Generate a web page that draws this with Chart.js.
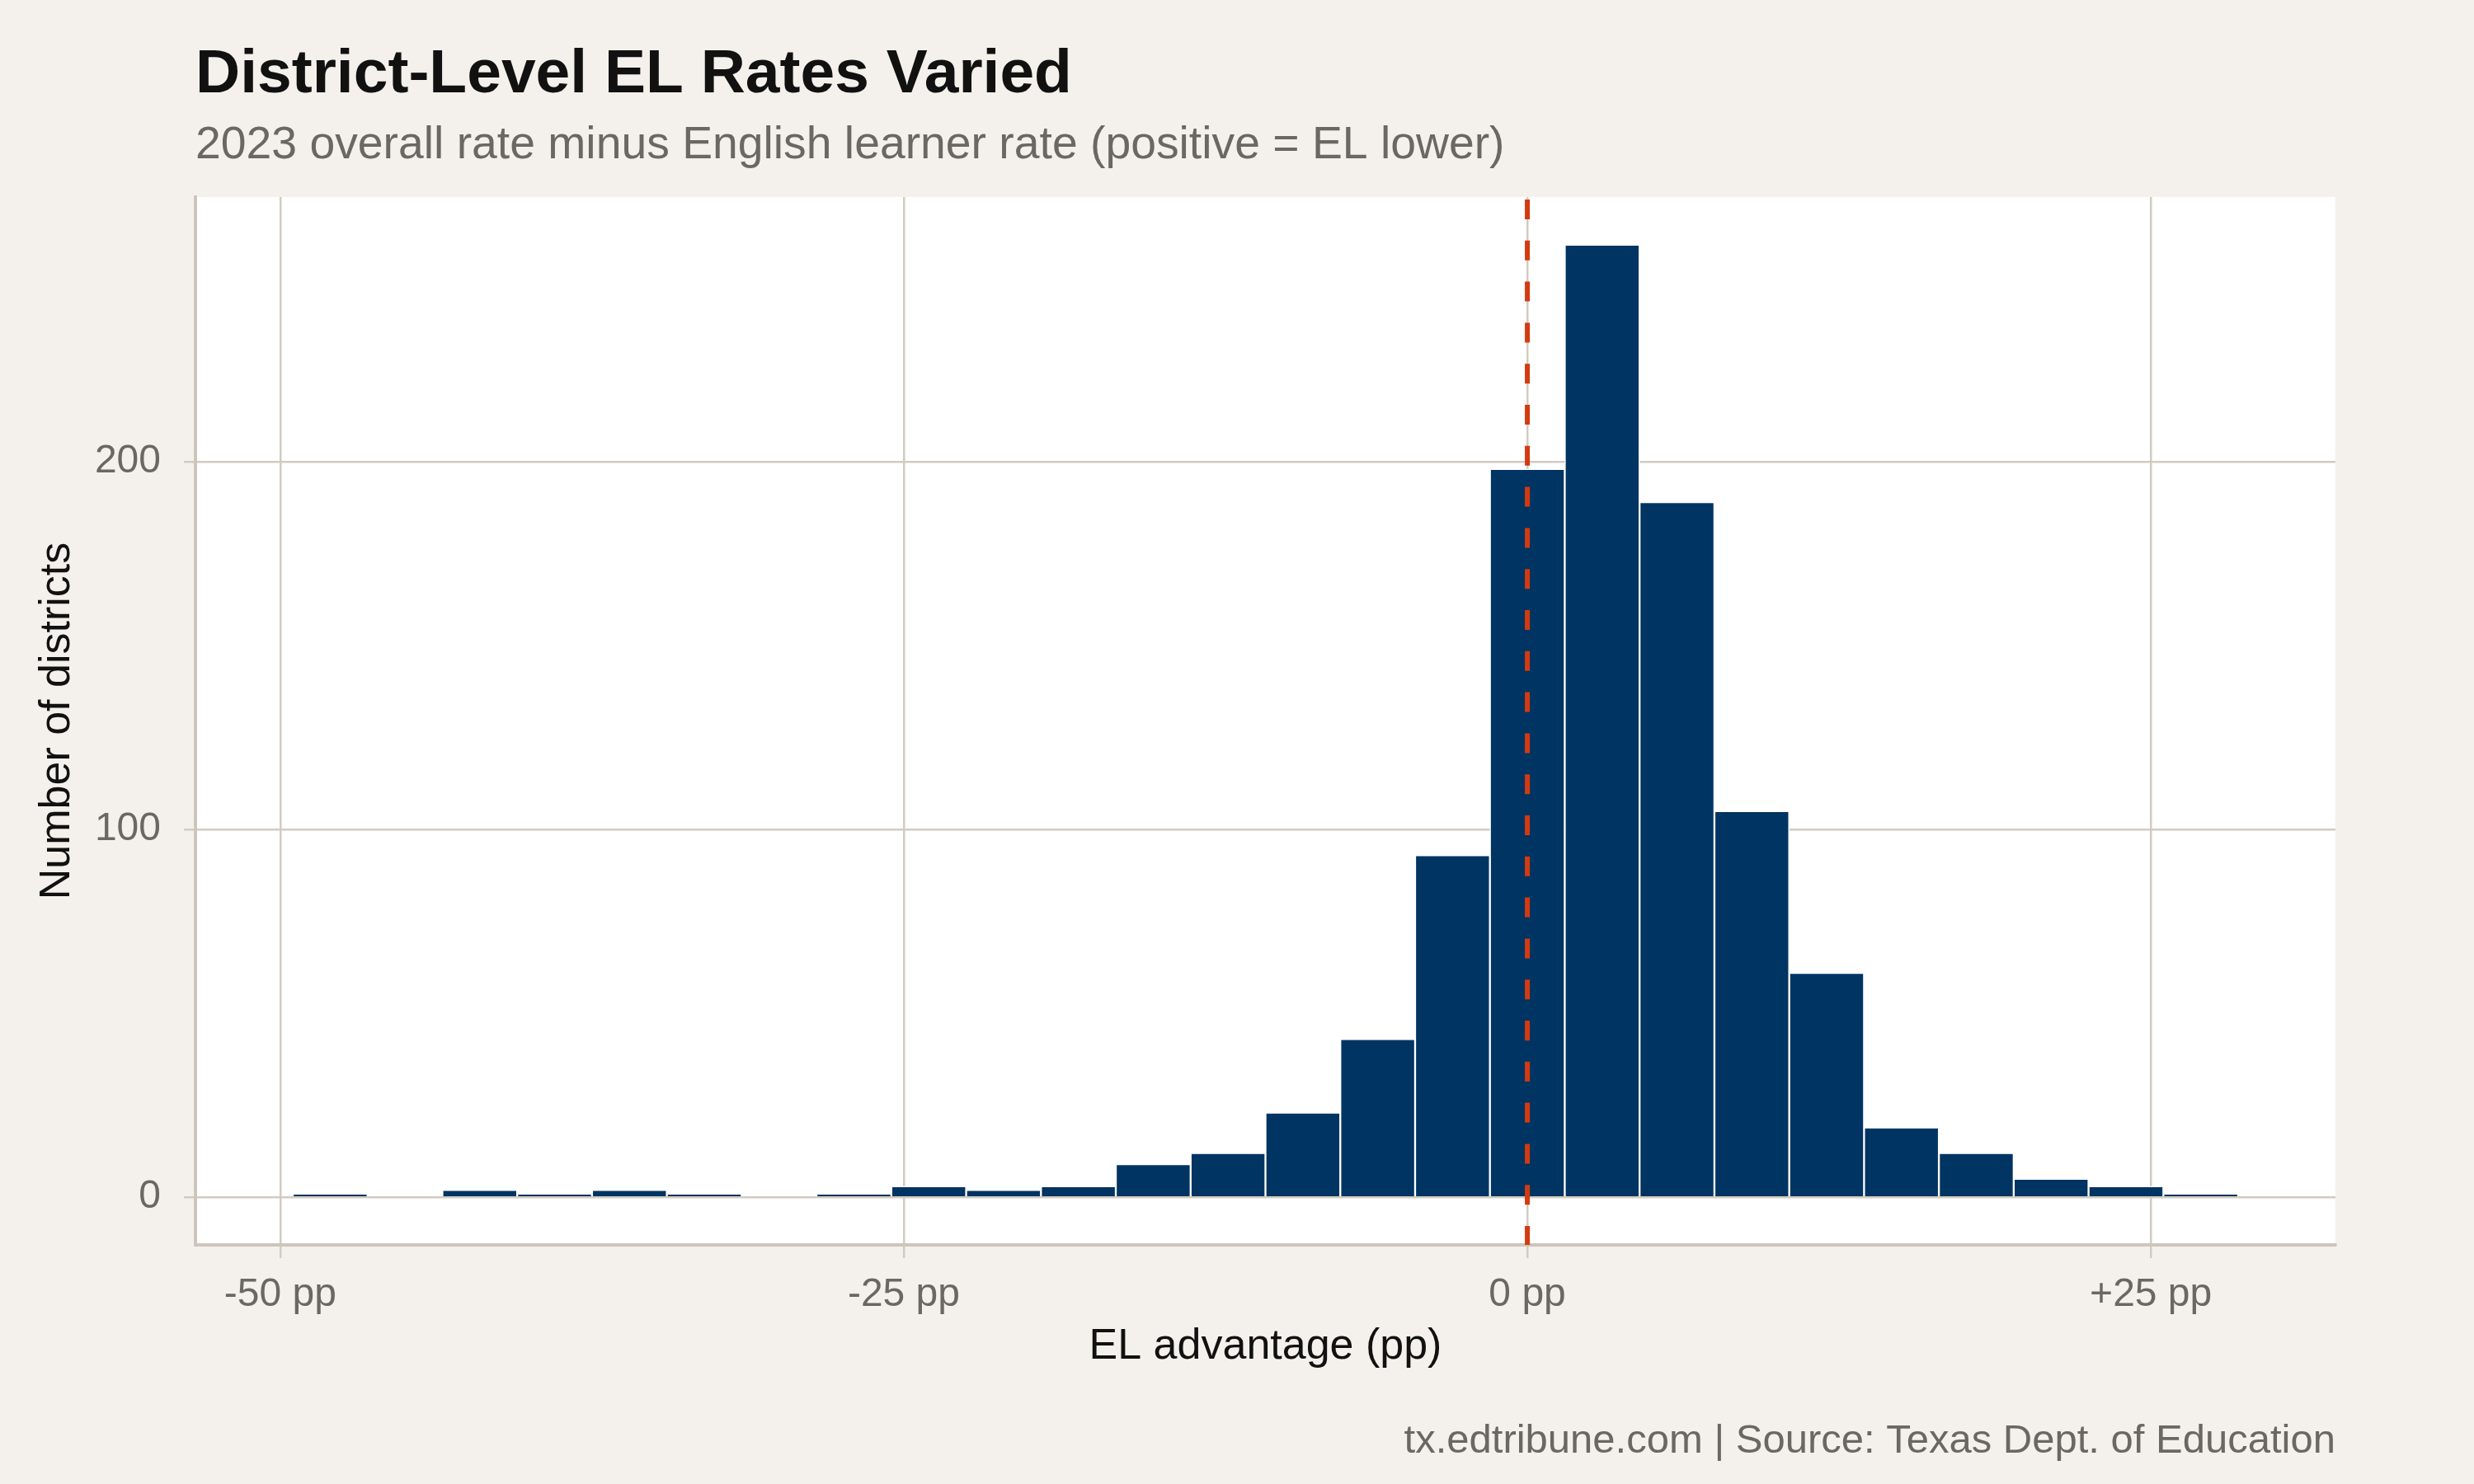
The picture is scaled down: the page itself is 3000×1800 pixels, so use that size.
<!DOCTYPE html>
<html>
<head>
<meta charset="utf-8">
<script src="https://cdn.jsdelivr.net/npm/chart.js@4.4.0/dist/chart.umd.min.js"></script>
<style>
  html, body { margin: 0; padding: 0; background: #F4F1EC; }
  canvas { display: block; }
</style>
</head>
<body>
<canvas id="chart" width="3000" height="1800" style="width:3000px;height:1800px"></canvas>
<script>
// ---- Data ----
const binCenters = [-48, -45, -42, -39, -36, -33, -30, -27, -24, -21, -18, -15, -12, -9, -6, -3, 0, 3, 6, 9, 12, 15, 18, 21, 24, 27];
const districtCounts = [1, 0, 2, 1, 2, 1, 0, 1, 3, 2, 3, 9, 12, 23, 43, 93, 198, 259, 189, 105, 61, 19, 12, 5, 3, 1];
const xTickValues = [-50, -25, 0, 25];
const xTickLabels = ['-50 pp', '-25 pp', '0 pp', '+25 pp'];
const yTickValues = [0, 100, 200];
const yTickLabels = ['0', '100', '200'];
const referenceValue = 0;

const titleText = 'District-Level EL Rates Varied';
const subtitleText = '2023 overall rate minus English learner rate (positive = EL lower)';
const captionText = 'tx.edtribune.com | Source: Texas Dept. of Education';
const xAxisTitle = 'EL advantage (pp)';
const yAxisTitle = 'Number of districts';

// ---- Styles ----
const FONT = "'Liberation Sans', Arial, Helvetica, sans-serif";
const PAGE_BG = '#F4F1EC';
const PANEL_BG = '#FFFFFF';
const GRID = '#D2CBC2';
const AXIS = '#CDC5BB';
const BAR = '#003462';
const REF = '#D43A10';
const GRAY_TEXT = '#6B6762';
const DARK_TEXT = '#111111';

const backgroundPlugin = {
  id: 'bg',
  beforeDraw(chart) {
    const { ctx, chartArea } = chart;
    ctx.save();
    ctx.fillStyle = PAGE_BG;
    ctx.fillRect(0, 0, chart.width, chart.height);
    ctx.fillStyle = PANEL_BG;
    ctx.fillRect(chartArea.left, chartArea.top, chartArea.right - chartArea.left, chartArea.bottom - chartArea.top);
    ctx.restore();
  }
};

const refLinePlugin = {
  id: 'refLine',
  afterDatasetsDraw(chart) {
    const { ctx, chartArea, scales } = chart;
    const px = scales.x.getPixelForValue(referenceValue);
    ctx.save();
    ctx.strokeStyle = REF;
    ctx.lineWidth = 6;
    ctx.setLineDash([24, 25.8]);
    ctx.lineDashOffset = -3;
    ctx.beginPath();
    ctx.moveTo(px, chartArea.top);
    ctx.lineTo(px, chartArea.bottom);
    ctx.stroke();
    ctx.restore();
  }
};

const textPlugin = {
  id: 'texts',
  afterDraw(chart) {
    const { ctx, chartArea } = chart;
    ctx.save();
    ctx.textBaseline = 'alphabetic';
    ctx.textAlign = 'left';
    ctx.fillStyle = DARK_TEXT;
    ctx.font = `bold 75px ${FONT}`;
    ctx.fillText(titleText, chartArea.left, 112);
    ctx.fillStyle = GRAY_TEXT;
    ctx.font = `55.3px ${FONT}`;
    ctx.fillText(subtitleText, chartArea.left, 192);
    ctx.textAlign = 'right';
    ctx.font = `49px ${FONT}`;
    ctx.fillText(captionText, chartArea.right, 1762);
    ctx.restore();
  }
};

const ctx = document.getElementById('chart').getContext('2d');
new Chart(ctx, {
  type: 'bar',
  data: {
    datasets: [{
      data: binCenters.map((x, i) => ({ x: x, y: districtCounts[i] })),
      backgroundColor: BAR,
      borderColor: '#FFFFFF',
      borderWidth: 1.5,
      borderSkipped: 'start',
      barPercentage: 1,
      categoryPercentage: 1
    }]
  },
  options: {
    responsive: false,
    devicePixelRatio: 1,
    animation: false,
    layout: { padding: { left: 0, top: 239, right: 168, bottom: 134.8 } },
    plugins: {
      legend: { display: false },
      tooltip: { enabled: false },
      title: { display: false }
    },
    scales: {
      x: {
        type: 'linear',
        offset: false,
        min: -53.4,
        max: 32.4,
        afterBuildTicks: (s) => { s.ticks = xTickValues.map(v => ({ value: v })); },
        afterFit: (s) => { s.height = 155.2; },
        ticks: {
          callback: (v, i) => xTickLabels[i],
          font: { family: FONT, size: 48 },
          color: GRAY_TEXT,
          padding: 15.6,
          maxRotation: 0,
          autoSkip: false
        },
        grid: { offset: false, color: GRID, lineWidth: 2.5, tickLength: 16, drawTicks: true },
        border: { display: true, color: AXIS, width: 4 },
        title: {
          display: true,
          text: xAxisTitle,
          font: { family: FONT, size: 52 },
          color: DARK_TEXT,
          padding: { top: 0, bottom: 0 }
        }
      },
      y: {
        type: 'linear',
        min: -12.95,
        max: 271.95,
        afterBuildTicks: (s) => { s.ticks = yTickValues.map(v => ({ value: v })); },
        afterFit: (s) => { s.width = 237; },
        ticks: {
          callback: (v, i) => yTickLabels[i],
          font: { family: FONT, size: 48 },
          color: GRAY_TEXT,
          padding: 28
        },
        grid: { color: GRID, lineWidth: 2.5, tickLength: 14, drawTicks: true },
        border: { display: true, color: AXIS, width: 4 },
        title: {
          display: true,
          text: yAxisTitle,
          font: { family: FONT, size: 52 },
          color: DARK_TEXT,
          padding: { top: 38.8, bottom: 0 }
        }
      }
    }
  },
  plugins: [backgroundPlugin, refLinePlugin, textPlugin]
});
</script>
</body>
</html>
